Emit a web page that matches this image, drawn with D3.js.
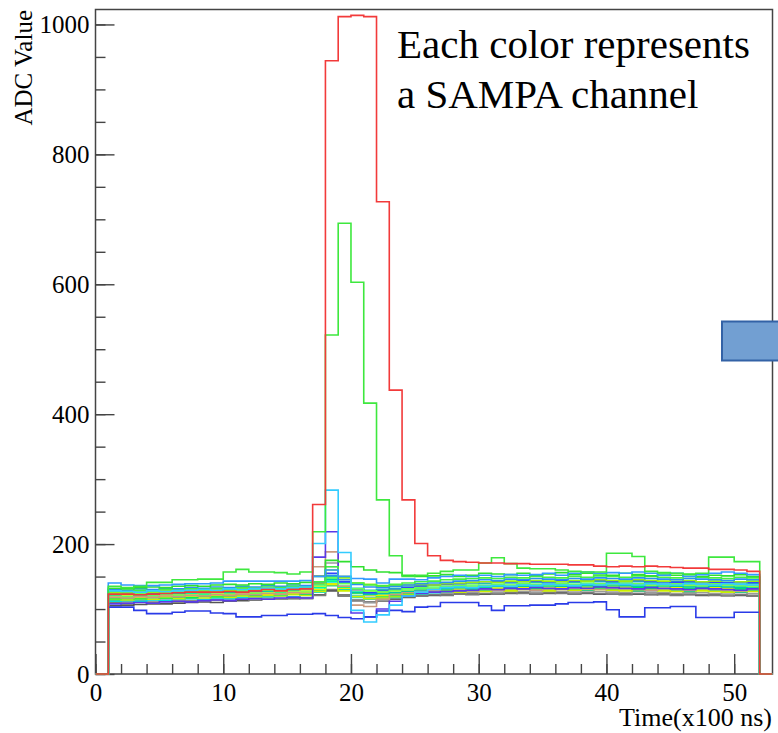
<!DOCTYPE html>
<html>
<head>
<meta charset="utf-8">
<script src="https://cdn.jsdelivr.net/npm/d3@7"></script>
<style>
  body { margin: 0; background: white; }
  svg { display: block; font-family: 'Liberation Serif', 'Times New Roman', serif; }
</style>
</head>
<body>
<div id="chart"></div>
<script>
// lower edges of the time bins (x100 ns); each bin is 1 wide
var timeBins = [1,2,3,4,5,6,7,8,9,10,11,12,13,14,15,16,17,18,19,20,21,22,23,24,25,26,
    27,28,29,30,31,32,33,34,35,36,37,38,39,40,41,42,43,44,45,46,47,48,49,50,51];
// full histogram range (the outer bins are empty)
var histRange = [0, 53];

var xTicks = [0, 10, 20, 30, 40, 50];
var yTicks = [0, 200, 400, 600, 800, 1000];

// one array per SAMPA channel (ADC value per time bin)
var chBandA = [132,131,133,134,133,135,136,135,137,138,137,139,138,140,139,141,150,175,173,165,160,157,156,152,150,151,153,150,152,155,154,153,155,152,154,156,153,155,154,152,155,153,151,154,152,153,150,152,151,153,150];
var chBandB = [126,125,127,126,128,127,129,128,130,129,131,130,132,131,133,132,140,160,148,140,138,135,136,137,138,137,139,140,141,142,141,143,142,144,143,142,144,143,145,144,143,145,144,143,145,144,142,143,144,142,143];
var chBandC = [120,121,120,122,121,123,122,124,123,125,124,126,125,127,126,128,135,150,140,130,126,125,126,128,130,131,133,132,134,135,134,136,135,137,136,135,137,136,138,137,136,138,137,136,138,137,136,135,137,136,135];
var chBandD = [116,117,116,118,117,119,118,120,119,121,122,121,123,122,124,123,130,145,133,124,122,120,121,124,126,128,129,130,131,130,132,131,133,132,131,133,132,134,133,132,134,133,132,131,133,132,131,133,132,131,130];
var chBandE = [122,123,122,124,125,124,126,125,127,126,128,127,128,129,130,131,138,146,135,125,123,124,125,127,129,130,131,133,132,134,135,133,135,134,136,135,134,136,135,137,136,135,134,136,135,134,133,135,134,133,132];
var chBandF = [112,113,112,114,113,115,116,115,117,116,118,117,119,120,119,121,126,140,130,118,115,116,118,121,123,125,126,127,128,129,130,129,131,130,129,131,130,132,131,130,129,131,130,129,128,130,129,128,127,129,128];
var chBandG = [112,111,113,112,114,113,112,114,115,114,116,115,117,116,118,117,151,171,140,112,110,113,118,122,124,125,124,126,125,127,126,128,127,126,128,127,126,128,127,126,125,127,126,125,124,126,125,124,123,125,124];
var chBandH = [105,106,107,108,108,109,110,111,110,112,113,114,115,115,116,117,122,128,120,113,110,112,115,118,120,121,122,123,124,123,125,124,126,125,124,126,125,124,123,125,124,123,122,124,123,122,121,123,122,121,120];
var chBandI = [125,124,126,125,127,126,128,127,126,128,129,128,130,129,131,132,140,155,142,130,125,128,130,133,135,137,138,139,141,142,143,142,144,143,142,144,143,145,144,143,142,144,143,142,141,143,142,141,140,142,141];
var chBandJ = [130,129,131,130,132,131,133,132,134,133,135,134,136,135,137,136,142,152,145,138,134,133,135,137,139,140,141,143,144,145,144,146,145,147,146,145,147,146,148,147,146,148,147,146,145,147,146,145,144,146,145];
var chBandK = [118,117,119,118,120,119,121,120,122,121,123,122,124,123,125,124,165,188,135,106,104,115,122,125,127,128,127,129,128,130,129,131,130,129,131,130,132,131,130,132,131,130,129,131,130,129,131,130,129,128,130];
var chBandL = [108,109,110,109,111,112,111,113,114,113,115,116,115,117,118,117,180,219,150,94,88,100,112,120,124,126,127,128,129,131,130,132,131,133,132,131,133,132,134,133,132,131,133,132,131,130,132,131,130,129,131];
var chBandM = [128,127,129,128,130,129,131,130,132,131,133,132,134,133,135,134,142,165,150,140,137,136,138,140,142,143,145,146,147,148,147,149,148,150,149,148,150,149,151,150,149,151,150,149,148,150,149,148,147,149,148];
var chBandN = [118,119,118,120,119,121,120,122,121,123,122,124,123,125,124,126,130,138,132,125,122,121,123,126,128,129,130,131,132,133,132,134,133,135,134,133,135,134,136,135,134,136,135,134,133,135,134,133,132,134,133];
var chBandO = [114,115,116,115,117,118,117,119,120,119,121,122,121,123,124,123,128,136,129,120,117,118,120,123,125,126,127,128,129,128,130,129,131,130,129,131,130,129,131,130,129,128,130,129,128,127,129,128,127,126,128];
var chBandP = [120,119,121,120,122,121,123,122,124,123,125,124,126,125,127,126,140,165,145,128,120,122,124,126,128,127,129,128,130,129,131,130,132,131,130,132,131,133,132,131,130,132,131,130,129,131,130,129,128,130,129];
var chBandQ = [124,125,124,126,125,127,126,128,127,129,128,130,129,131,130,132,137,148,139,131,128,127,129,131,133,134,135,136,137,136,138,137,139,138,137,139,138,140,139,138,140,139,138,137,139,138,137,139,138,137,136];
var chBandR = [115,114,116,115,117,116,118,117,119,118,120,119,121,120,122,121,127,139,128,119,116,117,119,122,124,126,127,126,128,127,129,128,130,129,128,130,129,131,130,129,128,130,129,128,127,129,128,127,126,128,127];
var chBandS = [126,127,126,128,127,129,128,130,129,131,130,132,131,133,132,134,139,150,141,132,129,130,132,134,136,137,138,139,140,139,141,140,142,141,140,142,141,143,142,141,143,142,141,140,142,141,140,142,141,140,139];
var chBandT = [110,109,111,110,112,111,113,112,114,113,115,114,116,115,117,116,121,130,122,114,111,113,116,119,121,122,121,123,122,124,123,125,124,123,125,124,123,125,124,123,122,124,123,122,121,123,122,121,120,122,121];
var chBandU = [121,120,122,121,123,122,124,123,125,124,126,125,127,126,128,127,133,143,134,126,123,124,126,129,131,132,133,134,135,134,136,135,137,136,135,137,136,138,137,136,138,137,136,135,137,136,135,137,136,135,134];
var chBlueLow = [103,103,98,93,93,95,97,97,94,93,88,88,90,90,92,92,93,90,87,85,88,97,98,96,103,104,110,110,110,105,98,105,105,106,106,108,110,110,111,99,88,88,102,102,104,104,87,87,87,95,95];
var chAzureTop = [140,137,136,136,137,138,139,139,140,143,143,143,143,143,143,144,150,160,150,147,146,140,146,146,145,148,150,152,150,152,150,153,152,153,155,152,155,157,155,156,155,157,155,152,155,150,153,155,157,155,153];
var chCyanPeak = [128,127,126,128,127,128,129,130,129,131,130,131,132,131,133,134,201,283,187,98,80,91,106,120,126,130,133,134,133,135,136,135,137,136,138,137,136,138,137,139,138,137,139,138,137,139,138,137,139,138,137];
var chGreenPeak = [135,133,135,141,141,145,145,146,146,157,161,157,157,156,154,157,219,522,694,603,417,268,182,150,152,155,158,160,160,171,179,170,163,162,162,160,158,157,157,186,186,181,158,156,155,154,155,180,180,173,173];
var chRedPeak = [123,123,122,123,124,125,126,126,126,127,126,128,130,128,130,131,261,944,1012,1014,1012,727,437,268,201,182,175,173,172,171,171,170,170,169,169,169,168,168,166,165,166,165,166,165,164,163,163,161,161,160,158];

var channels = [
    {values: chBandH, color: '#555555'},
    {values: chBandT, color: '#7a7a7a'},
    {values: chBandG, color: '#9a9a9a'},
    {values: chBandP, color: '#bdbdbd'},
    {values: chBandF, color: '#00dede'},
    {values: chBandO, color: '#33cc88'},
    {values: chBandR, color: '#ccee00'},
    {values: chBandD, color: '#00f050'},
    {values: chBandN, color: '#e6f000'},
    {values: chBandU, color: '#00ff99'},
    {values: chBandC, color: '#bbf53a'},
    {values: chBandE, color: '#00c8aa'},
    {values: chBandK, color: '#c89a80'},
    {values: chBandS, color: '#22bbbb'},
    {values: chBandL, color: '#5a3ae8'},
    {values: chBandI, color: '#3344ff'},
    {values: chBandQ, color: '#66ff55'},
    {values: chBandB, color: '#99ee11'},
    {values: chBandJ, color: '#2a90f0'},
    {values: chBandM, color: '#44ee44'},
    {values: chBandA, color: '#30e030'},
    {values: chAzureTop, color: '#3399ff'},
    {values: chBlueLow, color: '#2a3be8'},
    {values: chCyanPeak, color: '#33ccff'},
    {values: chGreenPeak, color: '#3ee83e'},
    {values: chRedPeak, color: '#f23a3a'}
];

var width = 778;
var height = 733;
var plotLeft = 95.5;
var plotRight = 772.5;
var plotTop = 9.5;
var plotBottom = 674;
var serif = "'Liberation Serif', 'Times New Roman', serif";

var svg = d3.select('#chart').append('svg')
    .attr('width', width)
    .attr('height', height);

var xScale = d3.scaleLinear().domain(histRange).range([plotLeft, plotRight]);
var yScale = d3.scaleLinear().domain([0, 1023]).range([plotBottom, plotTop]);

// frame
svg.append('rect')
    .attr('x', plotLeft)
    .attr('y', plotTop)
    .attr('width', plotRight - plotLeft)
    .attr('height', plotBottom - plotTop)
    .attr('fill', 'none')
    .attr('stroke', '#444')
    .attr('stroke-width', 1.5);

// axes: ticks point into the frame, ROOT style
var yMajor = d3.axisLeft(yScale).tickValues(yTicks).tickSize(-19).tickPadding(6).tickFormat(d3.format('d'));
var yMinor = d3.axisLeft(yScale).tickValues(d3.range(0, 1001, 50)).tickSize(-10).tickFormat('');
var xMajor = d3.axisBottom(xScale).tickValues(xTicks).tickSize(-20).tickPadding(9).tickFormat(d3.format('d'));
var xMinor = d3.axisBottom(xScale).tickValues(d3.range(0, 53, 2)).tickSize(-10).tickFormat('');

[yMinor, yMajor].forEach(ax => {
    svg.append('g')
        .attr('transform', `translate(${plotLeft},0)`)
        .call(ax)
        .call(g => g.select('.domain').remove());
});
[xMinor, xMajor].forEach(ax => {
    svg.append('g')
        .attr('transform', `translate(0,${plotBottom})`)
        .call(ax)
        .call(g => g.select('.domain').remove());
});
svg.selectAll('.tick line').attr('stroke', '#444').attr('stroke-width', 1.4);
svg.selectAll('.tick text')
    .attr('font-family', serif)
    .attr('font-size', 25)
    .attr('fill', '#000');

// histograms, drawn as steps over the whole range, zero outside the filled bins
var line = d3.line().x(d => xScale(d[0])).y(d => yScale(d[1]));

function stepPoints(values) {
    var pts = [[histRange[0], 0], [timeBins[0], 0]];
    values.forEach((v, i) => {
        pts.push([timeBins[i], v]);
        pts.push([timeBins[i] + 1, v]);
    });
    pts.push([timeBins[timeBins.length - 1] + 1, 0]);
    pts.push([histRange[1], 0]);
    return pts;
}

svg.append('g')
    .selectAll('path')
    .data(channels)
    .enter()
    .append('path')
    .attr('d', d => line(stepPoints(d.values)))
    .attr('fill', 'none')
    .attr('stroke', d => d.color)
    .attr('stroke-width', 1.6)
    .attr('stroke-linejoin', 'miter');

// axis titles
svg.append('text')
    .text('ADC Value')
    .attr('transform', `translate(32,10)rotate(-90)`)
    .attr('text-anchor', 'end')
    .attr('font-size', 25);

svg.append('text')
    .text('Time(x100 ns)')
    .attr('x', 772)
    .attr('y', 726)
    .attr('text-anchor', 'end')
    .attr('font-size', 26);

// annotation
var note = svg.append('text')
    .attr('x', 397)
    .attr('font-size', 41);
note.append('tspan').attr('x', 397).attr('y', 58).text('Each color represents');
note.append('tspan').attr('x', 397).attr('y', 108).text('a SAMPA channel');

// blue marker box at the right edge
svg.append('rect')
    .attr('x', 722)
    .attr('y', 321.5)
    .attr('width', 64)
    .attr('height', 39)
    .attr('fill', '#729fd2')
    .attr('stroke', '#3362a6')
    .attr('stroke-width', 2);
</script>
</body>
</html>
